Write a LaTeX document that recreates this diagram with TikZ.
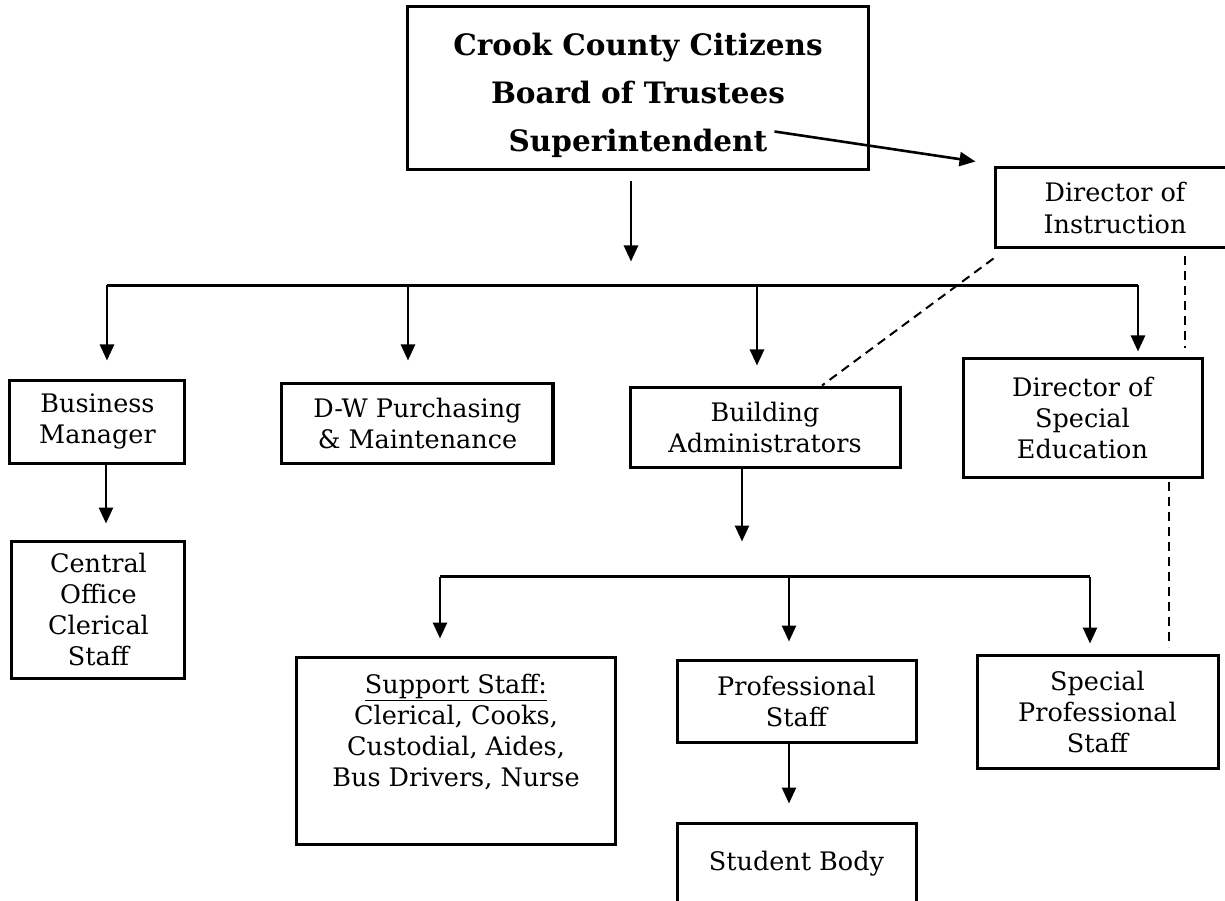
\documentclass[tikz,border=0pt]{standalone}
\usepackage{fontspec}
\setmainfont{DejaVu Serif}
\usetikzlibrary{arrows.meta,positioning}
\begin{document}
\begin{tikzpicture}[x=1pt, y=1pt, node distance=80pt, line width=2.6pt, >={Triangle[length=16pt,width=14pt]},
    unit/.style={rectangle, draw, line width=3pt, inner sep=0pt, align=center, font=\fontsize{25.5}{31}\selectfont},
    link/.style={line width=2pt, dash pattern=on 9pt off 6pt}]

    \useasboundingbox (-638,88.5) rectangle (587,-812.5);

    % Top level boxes
    \node (board) [unit, minimum width=460pt, minimum height=163pt, text height=133pt, font=\fontsize{29.5}{48}\selectfont\bfseries] {Crook County Citizens\\ Board of Trustees\\ Superintendent};
    \node (instr) [unit, minimum width=240pt, minimum height=80pt, right of=board, xshift=397pt, yshift=-119.5pt, font=\fontsize{25.5}{32}\selectfont] {Director of\\ Instruction};
    \coordinate (supt) at ([xshift=-95pt,yshift=40pt]board.south east);
    \coordinate (bdown) at ([xshift=-7pt,yshift=-90pt]board.south);
    \draw[->] (supt) -- ([xshift=-18pt,yshift=5pt]instr.north west);
    \draw[->] ([xshift=-7pt,yshift=-10pt]board.south) -- (bdown);

    % Second row
    \node (build) [unit, minimum width=270pt, minimum height=80pt, below of=board, xshift=127pt, yshift=-258.5pt] {Building\\ Administrators};
    \node (dw) [unit, minimum width=271pt, minimum height=80pt, left of=build, xshift=-267.5pt, yshift=4pt] {D-W Purchasing\\ \& Maintenance};
    \node (biz) [unit, minimum width=175pt, minimum height=83pt, left of=dw, xshift=-240pt, yshift=1.5pt] {Business\\ Manager};
    \node (sped) [unit, minimum width=239pt, minimum height=119pt, right of=build, xshift=237.5pt, yshift=9.5pt] {Director of\\ Special\\ Education};

    % Bus to second row
    \draw ([xshift=9.5pt,yshift=93pt]biz.north) -- ([xshift=55.5pt,yshift=71pt]sped.north);
    \draw[->] ([xshift=9.5pt,yshift=93pt]biz.north) -- ([xshift=9.5pt,yshift=18pt]biz.north);
    \draw[->] ([xshift=-9.5pt,yshift=96pt]dw.north) -- ([xshift=-9.5pt,yshift=21pt]dw.north);
    \draw[->] ([xshift=-8pt,yshift=100pt]build.north) -- ([xshift=-8pt,yshift=20pt]build.north);
    \draw[->] ([xshift=55.5pt,yshift=71pt]sped.north) -- ([xshift=55.5pt,yshift=5pt]sped.north);

    % Dashed links from instruction
    \draw[link] ([yshift=-9pt]instr.south west) -- ([xshift=57pt]build.north);
    \draw[link] ([xshift=70pt,yshift=-7pt]instr.south) -- ([xshift=102.5pt,yshift=8pt]sped.north);

    % Central office
    \node (central) [unit, minimum width=173pt, minimum height=137pt, below of=biz, xshift=1pt, yshift=-108pt] {Central\\ Office\\ Clerical\\ Staff};
    \draw[->] ([xshift=8.5pt]biz.south) -- ([xshift=7.5pt,yshift=16pt]central.north);

    % Staff row
    \node (prof) [unit, minimum width=239pt, minimum height=82pt, below of=build, xshift=31.5pt, yshift=-194pt] {Professional\\ Staff};
    \node (support) [unit, minimum width=318pt, minimum height=187pt, text depth=41pt, left of=prof, xshift=-260.5pt, yshift=-49.5pt] {\underline{Support Staff:}\\ Clerical, Cooks,\\ Custodial, Aides,\\ Bus Drivers, Nurse};
    \node (sps) [unit, minimum width=241pt, minimum height=113pt, right of=prof, xshift=221pt, yshift=-10.5pt] {Special\\ Professional\\ Staff};
    \node (student) [unit, minimum width=239pt, minimum height=82pt, below of=prof, yshift=-83pt] {Student Body};

    % Bus to staff row
    \coordinate (bpoint) at ([xshift=-23pt,yshift=-73pt]build.south);
    \draw[->] ([xshift=-23pt]build.south) -- (bpoint);
    \draw ([xshift=-16pt,yshift=79pt]support.north) -- ([xshift=-7.5pt,yshift=77pt]sps.north);
    \draw[->] ([xshift=-16pt,yshift=79pt]support.north) -- ([xshift=-16pt,yshift=17pt]support.north);
    \draw[->] ([xshift=-7.5pt,yshift=82pt]prof.north) -- ([xshift=-7.5pt,yshift=17pt]prof.north);
    \draw[->] ([xshift=-7.5pt,yshift=77pt]sps.north) -- ([xshift=-7.5pt,yshift=10pt]sps.north);
    \draw[->] ([xshift=-7.5pt]prof.south) -- ([xshift=-7.5pt,yshift=18pt]student.north);
    \draw[link] ([xshift=86.5pt,yshift=-3pt]sped.south) -- ([xshift=71.5pt,yshift=7pt]sps.north);

\end{tikzpicture}
\end{document}
